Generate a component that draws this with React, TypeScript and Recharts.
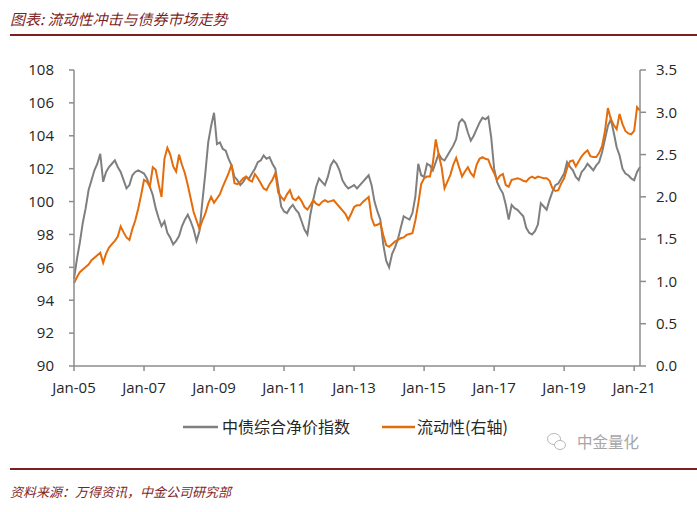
import React from "react";
import { LineChart, Line, XAxis, YAxis } from "recharts";

const title = "图表: 流动性冲击与债券市场走势";
const source = "资料来源：万得资讯，中金公司研究部";
const seriesNames = ["中债综合净价指数", "流动性(右轴)"];
const xTickLabels = ["Jan-05", "Jan-07", "Jan-09", "Jan-11", "Jan-13", "Jan-15", "Jan-17", "Jan-19", "Jan-21"];
const leftTicks = [90, 92, 94, 96, 98, 100, 102, 104, 106, 108];
const rightTicks = [0, 0.5, 1, 1.5, 2, 2.5, 3, 3.5];

// monthly, Jan-05 onward
const bondIndex = [
  95.3, 96.5, 97.5, 98.7, 99.6, 100.7, 101.3, 101.9, 102.3, 102.9, 101.2, 101.8,
  102.1, 102.3, 102.5, 102.1, 101.8, 101.3, 100.8, 101.0, 101.6, 101.8, 101.9, 101.8,
  101.7, 101.4, 100.9, 100.4, 99.6, 99.0, 98.5, 98.8, 98.1, 97.8, 97.4, 97.6,
  97.9, 98.5, 98.9, 99.2, 98.8, 98.3, 97.6, 98.2, 100.0, 101.7, 103.6, 104.6,
  105.4, 103.5, 103.6, 103.2, 103.1, 102.6, 102.2, 101.5, 101.3, 101.0, 101.2, 101.5,
  101.4, 101.7, 102.0, 102.4, 102.5, 102.8, 102.6, 102.7, 102.3, 102.0, 100.9, 99.7,
  99.4, 99.3, 99.6, 99.8, 99.5, 99.3, 98.8, 98.3, 98.0, 99.2, 100.1, 100.9,
  101.4, 101.2, 101.0, 101.5, 102.2, 102.5, 102.3, 101.9, 101.3, 101.0, 100.8, 100.9,
  101.0, 100.8, 101.0, 101.2, 101.4, 101.6, 101.0, 100.0, 99.4, 98.9, 97.4, 96.4,
  96.0, 96.8, 97.2, 97.7, 98.4, 99.1, 99.0, 98.9, 99.3, 100.3, 102.3, 101.6,
  101.5, 102.3, 102.2, 101.9, 102.4, 102.9, 102.6, 102.5, 102.8, 103.1, 103.4, 103.8,
  104.8, 105.0, 104.8, 104.2, 103.7, 104.0, 104.4, 104.8, 105.1, 105.0, 105.15, 103.9,
  102.0, 101.2, 100.8, 100.5, 99.8, 98.9, 99.8, 99.6, 99.5, 99.3, 99.1, 98.4,
  98.1, 98.0, 98.2, 98.6, 99.9, 99.7, 99.5, 100.1, 100.6, 101.0, 101.1, 101.4,
  101.7, 102.4, 102.1, 101.9, 101.5, 101.3, 101.8, 102.0, 102.3, 102.1, 101.9, 102.2,
  102.4, 103.0, 103.8, 104.6, 105.0, 104.2, 103.3, 102.8, 102.0, 101.7, 101.6, 101.4,
  101.3, 101.8, 102.1,
];

const liquidity = [
  0.98, 1.05, 1.11, 1.14, 1.17, 1.2, 1.25, 1.28, 1.31, 1.34, 1.22, 1.33,
  1.4, 1.44, 1.48, 1.53, 1.65, 1.58, 1.52, 1.49, 1.62, 1.72, 1.86, 2.02,
  2.2, 2.18, 2.12, 2.35, 2.32, 2.15, 2.0, 2.45, 2.58, 2.5, 2.36, 2.3,
  2.5, 2.38, 2.28, 2.14, 1.98, 1.82, 1.72, 1.62, 1.72, 1.8, 1.92, 2.0,
  1.93, 1.98, 2.03, 2.12, 2.2, 2.28, 2.38, 2.16, 2.15, 2.18, 2.22, 2.24,
  2.2, 2.18, 2.27, 2.22, 2.16, 2.1, 2.08, 2.15, 2.2, 2.28, 2.05, 2.0,
  1.96, 2.03, 2.08, 1.98, 1.96, 2.0, 1.95, 1.88, 1.85, 1.9, 1.96, 1.92,
  1.9, 1.94, 1.96, 1.94, 1.95, 1.96, 1.92, 1.88, 1.84, 1.8, 1.73, 1.8,
  1.88, 1.9, 1.9, 1.94, 1.97, 2.0, 1.75, 1.66, 1.67, 1.69, 1.55, 1.43,
  1.41, 1.44, 1.47, 1.49, 1.51, 1.52, 1.55, 1.56, 1.57, 1.72, 1.92, 2.15,
  2.22, 2.24, 2.24, 2.4, 2.68, 2.5, 2.35, 2.1, 2.18, 2.26, 2.38, 2.46,
  2.35, 2.24, 2.3, 2.35, 2.28, 2.24, 2.38, 2.45, 2.47, 2.45, 2.44, 2.35,
  2.28, 2.2, 2.25, 2.27, 2.14, 2.12, 2.2, 2.21, 2.22, 2.21, 2.19, 2.18,
  2.22, 2.24, 2.22, 2.24, 2.23, 2.22, 2.22, 2.19, 2.1, 2.07, 2.08, 2.16,
  2.22, 2.34, 2.42, 2.43, 2.36, 2.42, 2.48, 2.52, 2.55, 2.48, 2.47, 2.47,
  2.52, 2.6, 2.78, 3.05, 2.92, 2.85, 2.8, 2.98, 2.86, 2.78, 2.75, 2.74,
  2.78, 3.06, 3.02,
];

const xTickMonths = xTickLabels.map((_, i) => i * 24);
const data = bondIndex.map((v, i) => ({ m: i, bond: v, liq: liquidity[i] }));

const GRAY = "#7F7F7F";
const ORANGE = "#E46C0A";
const RED = "#7F1F1F";
const AXIS = "#8C8C8C";
const tickFont = { fontSize: 15, fill: "#262626", fontFamily: "'Open Sans', 'Noto Sans', sans-serif" };

export default function App() {
  return (
    <div style={{ position: "absolute", left: 0, top: 0, width: 697, height: 512, background: "#fff", overflow: "hidden" }}>
      <div style={{ position: "absolute", left: 10, top: 9, fontSize: 15, fontStyle: "italic", color: RED, fontFamily: "'Noto Sans CJK SC', sans-serif", lineHeight: "20px", whiteSpace: "nowrap" }}>
        {title}
      </div>
      <div style={{ position: "absolute", left: 10, top: 34, width: 687, height: 2, background: RED }} />

      <div style={{ position: "absolute", left: 0, top: 0 }}>
        <LineChart width={697} height={400} data={data} margin={{ top: 70, right: 0, left: 0, bottom: 0 }}>
          <XAxis
            dataKey="m"
            type="number"
            domain={[0, 194]}
            ticks={xTickMonths}
            tickFormatter={(v: number) => xTickLabels[Math.round(v / 24)]}
            height={34}
            tickSize={5}
            tickMargin={11}
            stroke={AXIS}
            strokeWidth={1.5}
            tick={tickFont}
            interval={0}
          />
          <YAxis
            yAxisId="left"
            domain={[90, 108]}
            ticks={leftTicks}
            width={74}
            tickSize={5}
            tickMargin={15}
            stroke={AXIS}
            strokeWidth={1.5}
            tick={tickFont}
            interval={0}
          />
          <YAxis
            yAxisId="right"
            orientation="right"
            domain={[0, 3.5]}
            ticks={rightTicks}
            tickFormatter={(v: number) => v.toFixed(1)}
            width={57}
            tickSize={6}
            tickMargin={10}
            stroke={AXIS}
            strokeWidth={1.5}
            tick={tickFont}
            interval={0}
          />
          <Line yAxisId="left" type="linear" dataKey="bond" stroke={GRAY} strokeWidth={2} dot={false} isAnimationActive={false} />
          <Line yAxisId="right" type="linear" dataKey="liq" stroke={ORANGE} strokeWidth={2} dot={false} isAnimationActive={false} />
        </LineChart>
      </div>

      <svg style={{ position: "absolute", left: 0, top: 0 }} width={697} height={512}>
        <line x1={183} x2={218} y1={427} y2={427} stroke={GRAY} strokeWidth={2.5} />
        <text x={222} y={433} fontSize={16} fill="#262626" fontFamily="'Noto Sans CJK SC', sans-serif">{seriesNames[0]}</text>
        <line x1={382} x2={415} y1={427} y2={427} stroke={ORANGE} strokeWidth={2.5} />
        <text x={417} y={433} fontSize={16} fill="#262626" fontFamily="'Noto Sans CJK SC', sans-serif">{seriesNames[1]}</text>
        <g stroke="#B8B8B8" strokeWidth={1} fill="#fff">
          <ellipse cx={554} cy={439} rx={6.5} ry={5.5} />
          <ellipse cx={560} cy={445} rx={5.5} ry={4.5} />
        </g>
        <text x={577} y={448} fontSize={15.5} fill="#A6A6A6" fontFamily="'Noto Sans CJK SC', sans-serif">中金量化</text>
      </svg>

      <div style={{ position: "absolute", left: 10, top: 468, width: 687, height: 2, background: RED }} />
      <div style={{ position: "absolute", left: 10, top: 482, fontSize: 13, fontStyle: "italic", color: RED, fontFamily: "'Noto Sans CJK SC', sans-serif", lineHeight: "20px", whiteSpace: "nowrap" }}>
        {source}
      </div>
    </div>
  );
}
